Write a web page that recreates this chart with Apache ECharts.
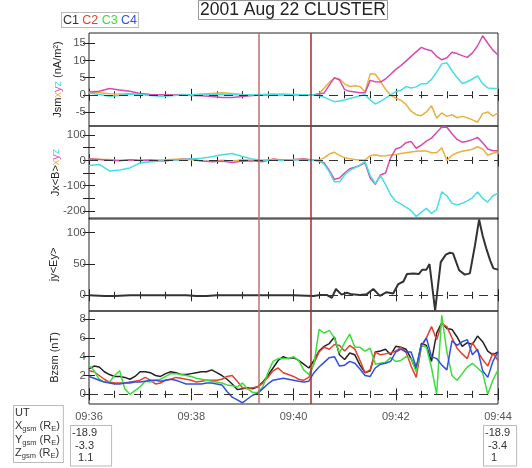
<!DOCTYPE html>
<html><head><meta charset="utf-8">
<script src="https://cdn.jsdelivr.net/npm/echarts@6/dist/echarts.min.js"></script>
<style>html,body{margin:0;padding:0;background:#fff}#c{width:532px;height:468px}</style>
</head><body><div id="c"></div>
<script>
// ---------------- data ----------------
const titleText = '2001 Aug 22 CLUSTER';
const spacecraft = ['C1', 'C2', 'C3', 'C4'];
// x values are minutes after 09:36 UT
const timeTickLabels = ['09:36', '09:38', '09:40', '09:42', '09:44'];
const eventTimes = [3.33, 4.34];

const jTimes = [0,0.2,0.4,0.6,0.8,1.0,1.2,1.4,1.6,1.8,2.0,2.2,2.4,2.6,2.8,3.0,3.2,3.4,3.6,3.8,4.0,4.2,
  4.3,4.4,4.5,4.6,4.7,4.8,4.9,5.0,5.1,5.2,5.3,5.4,5.5,5.6,5.7,5.8,5.9,6.0,6.1,6.2,6.3,6.4,6.5,6.6,6.7,6.8,6.9,
  7.0,7.1,7.2,7.3,7.4,7.5,7.6,7.7,7.8,7.9,8.0];

// Panel 1: Jsm x,y,z (nA/m^2)
const jsmX = [0.8,0.6,0.3,0.2,0.3,0.2,0,-0.1,0,0.1,0,0.2,0.4,0.6,0.4,0.1,0,-0.1,0,0.1,0.1,0,
  0,0,0.3,2.0,3.6,4.8,4.6,3.2,2.4,2.6,2.4,0.8,6.1,6.0,4.0,1.6,-0.2,-1.0,-1.6,-2.8,-4.8,-5.8,-6.1,-5.0,-3.2,-6.8,-5.3,
  -6.3,-5.8,-6.7,-6.3,-6.7,-7.3,-8.0,-5.5,-5.0,-6.2,-5.3];
const jsmY = [0.8,1.0,1.8,1.4,1.0,0.4,0.1,0,-0.1,0,-0.2,-0.3,-0.5,-0.8,-0.8,-0.5,-0.2,-0.1,0,0.1,0,0,
  0,0,0.2,0.5,2.8,5.0,4.3,1.5,1.0,0.8,0.6,0.6,4.2,3.8,3.7,4.6,6.0,7.4,8.5,9.8,11.2,12.5,13.8,13.2,12.8,11.2,10.2,
  10.8,12.4,12.0,11.4,10.9,12.2,14.2,17.2,15.0,13.0,11.6];
const jsmZ = [0.5,0.1,-0.4,-0.2,0.2,0.1,-0.2,-0.4,-0.3,-0.1,0,-0.1,0,0.1,0,-0.1,0,0.1,0.2,0.1,0,0,
  0,0,-0.3,-0.7,-1.4,-2.0,-1.8,-1.5,-1.1,-0.7,-0.3,0.0,-1.5,-2.7,-1.9,-1.0,0.0,0.9,1.3,2.4,2.0,2.3,3.2,3.2,4.5,6.6,9.0,
  9.3,7.0,5.0,3.3,3.8,4.6,5.5,3.2,2.0,1.8,1.8];

// Panel 2: J x <B>  x,y,z
const jxbX = [6,4,3,0,2,0,2,1,3,5,2,-3,-2,0,-2,2,0,0,4,2,3,5,
  3,0,2,10,25,32,20,10,6,3,1,1,18,22,17,18,21,23,27,30,33,36,37,37,30,30,50,
  0,20,30,36,40,44,54,45,20,28,33];
const jxbY = [5,3,0,-2,2,-1,0,-3,0,3,5,-2,-5,-3,-8,-3,-2,-5,5,0,2,5,
  2,0,-2,-10,-40,-75,-70,-50,-33,-27,-20,-10,-70,-95,-58,-50,10,45,52,70,75,48,60,76,88,110,132,
  131,105,83,72,76,82,91,70,45,38,38];
const jxbZ = [-20,-16,-42,-38,-30,-10,-5,-3,0,2,5,8,14,22,27,15,5,0,2,0,3,0,
  0,0,-3,-15,-45,-85,-85,-58,-40,-30,-18,-5,-60,-92,-60,-95,-136,-162,-172,-185,-198,-222,-205,-190,-210,-195,-125,
  -140,-170,-176,-170,-160,-148,-125,-150,-165,-140,-130];

// Panel 3: jy <Ey>
const jyTimes = [0,0.3,0.5,0.8,1.0,1.5,1.9,2.1,2.3,2.5,3.0,3.5,4.0,4.39,4.52,4.65,4.75,4.83,4.94,5.04,
  5.14,5.3,5.43,5.56,5.69,5.82,5.95,6.05,6.15,6.22,6.35,6.45,6.52,6.6,6.66,6.77,6.88,6.98,7.06,7.12,
  7.24,7.35,7.45,7.55,7.63,7.7,7.77,7.85,7.91,8.0];
const jyEy = [0,-1,-1,0,0,0,0,-1,-1,0,0,0,0,-1,0.5,0.5,-4,10,1,4,
  1.5,0.5,1.5,10,-1,5,3,18,22,34,35,34,41,41,50,-24,53,65,68,67,
  40,33,35,80,121,95,75,55,43,41];

// Panel 4: Bz (nT), C1..C4
const bTimes = [0,0.1,0.2,0.3,0.4,0.5,0.6,0.7,0.8,0.9,1.0,1.1,1.2,1.3,1.4,1.5,1.6,1.7,1.8,1.9,
  2.0,2.1,2.2,2.3,2.4,2.5,2.6,2.7,2.8,2.9,3.0,3.1,3.2,3.3,3.4,3.5,3.6,3.7,3.8,3.9,
  4.0,4.1,4.2,4.3,4.4,4.5,4.6,4.7,4.8,4.9,5.0,5.1,5.2,5.3,5.4,5.5,5.6,5.7,5.8,5.9,
  6.0,6.1,6.2,6.3,6.4,6.5,6.6,6.7,6.8,6.9,7.0,7.1,7.2,7.3,7.4,7.5,7.6,7.7,7.8,7.9,8.0];
const bzC1 = [2.7,3.0,2.9,2.4,2.1,1.9,1.9,1.8,1.6,1.9, 2.4,2.4,2.3,2.0,1.9,2.2,2.4,2.3,2.1,2.1,
  2.2,2.3,2.4,2.4,2.6,2.3,2.0,1.6,1.1,0.5, 0.6,0.7,0.6,0.8,1.3,2.0,2.8,3.6,4.0,3.8,
  3.9,3.6,3.2,2.8,3.6,4.6,5.1,5.4,6.1,4.2, 3.7,4.4,4.2,3.1,2.3,2.5,4.5,4.6,4.8,4.2,
  5.1,5.0,4.8,3.8,2.6,5.4,5.2,3.5,6.5,7.6, 7.0,6.9,6.1,5.1,5.5,5.3,6.2,5.6,4.6,4.2, 4.5];
const bzC2 = [2.5,2.4,2.0,1.6,1.3,1.2,1.2,1.2,1.3,1.4, 1.5,1.8,1.5,1.1,1.2,1.5,1.6,1.8,1.7,1.6,
  1.5,1.3,1.4,1.5,1.5,1.5,1.6,1.9,2.0,1.4, 0.7,0.6,0.7,0.8,1.2,1.8,2.5,2.8,2.3,2.1,
  1.9,1.6,1.5,1.8,3.3,4.5,5.0,4.8,5.3,5.2, 4.6,5.2,4.8,3.6,2.3,2.6,4.5,4.2,4.3,4.4,
  4.6,5.0,4.5,3.0,1.8,5.0,6.0,7.2,5.8,7.5, 7.2,6.0,4.9,4.3,3.8,5.5,4.6,3.7,3.0,4.4, 3.6];
const bzC3 = [3.1,2.5,1.6,1.3,1.3,2.0,2.5,0.6,0.0,0.4, 0.8,1.4,1.3,1.5,1.6,1.9,2.2,2.2,2.1,2.0,
  1.9,1.7,1.6,1.5,1.4,1.3,1.2,1.0,0.9,0.8, 1.2,0.6,0.2,0.2,0.8,2.3,3.5,3.8,3.8,3.8,
  4.0,3.6,2.6,2.1,3.2,6.9,6.5,6.8,6.0,4.4, 5.5,6.4,5.0,5.0,4.6,4.9,3.2,3.3,3.4,3.9,
  3.5,3.6,4.0,3.8,2.4,5.2,5.0,2.8,0.0,8.4, 4.5,2.0,1.5,2.2,2.9,3.3,2.8,2.3,0.0,1.5, 2.6];
const bzC4 = [1.9,1.7,1.5,1.3,1.2,1.1,1.1,1.2,1.2,1.3, 1.3,1.4,1.5,1.5,1.4,1.5,1.6,1.5,1.3,1.1,
  1.1,1.1,1.1,1.2,1.2,1.1,1.0,0.3,-0.3,-0.6, -0.9,-0.5,-0.1,0.1,0.6,1.1,1.5,1.6,1.7,1.6,
  1.5,1.4,1.3,1.4,2.3,2.9,3.4,3.9,4.0,3.0, 3.1,3.5,3.3,2.7,2.0,1.9,2.8,3.2,3.3,3.5,
  4.5,4.8,4.5,4.5,2.9,5.2,6.0,4.0,3.8,3.1, 2.6,5.7,5.2,5.6,5.8,4.2,4.8,2.5,1.8,3.5, 4.5];

// axis ticks / labels
const p1Ticks = [-5, 0, 5, 10, 15];
const p2Ticks = [-200, -150, -100, -50, 0, 50, 100];
const p2Labels = [-200, -100, 0, 100];
const p3Ticks = [0, 50, 100];
const p4Ticks = [0, 2, 4, 6, 8];

// spacecraft position table
const posNames = ['X', 'Y', 'Z'];
const posStart = ['-18.9', '-3.3', '1.1'];
const posEnd = ['-18.9', '-3.4', '1'];

// ---------------- chart ----------------
const FONT = 'Liberation Sans';
const compColors = { x: '#e9b042', y: '#d64bb2', z: '#46dfe2' };
const scColors = ['#222222', '#e5412f', '#3edc3e', '#3150dc'];
const frame = '#222';

const panels = [
  { top: 33, min: -9.1, max: 18, ticks: p1Ticks, labels: p1Ticks, gap: 26,
    name: '{k|Jsm}{x|x}{y|y}{z|z}{k| (nA/m²)}' },
  { top: 126, min: -232, max: 136, ticks: p2Ticks, labels: p2Labels, gap: 28,
    name: '{k|Jx<B>}{x|x}{y|y}{z|z}' },
  { top: 218, min: -25.1, max: 123.5, ticks: p3Ticks, labels: p3Ticks, gap: 30,
    name: '{k|jy<Ey>}' },
  { top: 311, min: -1.03, max: 8.86, ticks: p4Ticks, labels: p4Ticks, gap: 29,
    name: '{k|Bzsm (nT)}' }
];
const nameRich = {
  k: { color: '#222', fontSize: 11, fontFamily: FONT },
  x: { color: compColors.x, fontSize: 11, fontFamily: FONT },
  y: { color: compColors.y, fontSize: 11, fontFamily: FONT },
  z: { color: compColors.z, fontSize: 11, fontFamily: FONT }
};

const grid = [], xAxis = [], yAxis = [], series = [];
panels.forEach((p, i) => {
  grid.push({ left: 89, width: 409, top: p.top, height: 93, show: true,
    borderColor: frame, borderWidth: 1, backgroundColor: 'transparent' });
  ['bottom', 'top'].forEach(pos => {
    xAxis.push({ type: 'value', gridIndex: i, min: 0, max: 8, interval: 2, position: pos,
      axisLine: { show: false }, splitLine: { show: false },
      axisTick: { show: true, inside: true, length: 6, lineStyle: { color: frame } },
      minorTick: { show: true, splitNumber: 4, length: 3.5, lineStyle: { color: frame } },
      axisLabel: { show: (i === 3 && pos === 'bottom'), margin: 7, fontSize: 11, color: '#555',
        fontFamily: FONT, formatter: v => timeTickLabels[Math.round(v / 2)] } });
  });
  ['left', 'right'].forEach(pos => {
    const ax = { type: 'value', gridIndex: i, min: p.min, max: p.max, position: pos,
      axisLine: { show: false }, splitLine: { show: false },
      axisTick: { show: true, inside: true, length: 6, customValues: p.ticks, lineStyle: { color: frame } },
      axisLabel: { show: pos === 'left', customValues: p.labels, margin: 3, fontSize: 11.5,
        color: '#555', fontFamily: FONT } };
    if (pos === 'left') {
      ax.name = p.name; ax.nameLocation = 'middle'; ax.nameGap = p.gap; ax.nameMoveOverlap = false;
      ax.nameTextStyle = { rich: nameRich, fontFamily: FONT, fontSize: 11 };
    }
    yAxis.push(ax);
  });
});

const refMarks = {
  silent: true, symbol: ['none', 'none'], label: { show: false }, animation: false,
  data: [
    { yAxis: 0, lineStyle: { type: [9, 6], color: '#333', width: 1 } },
    { xAxis: eventTimes[0], lineStyle: { type: 'solid', color: '#b57570', width: 1.5 } },
    { xAxis: eventTimes[1], lineStyle: { type: 'solid', color: '#a42e2c', width: 1.5 } }
  ]
};
function addLine(gi, times, vals, color, width, withMarks) {
  const s = { type: 'line', xAxisIndex: 2 * gi, yAxisIndex: 2 * gi,
    data: times.map((t, k) => [t, vals[k]]), showSymbol: false, symbol: 'none',
    lineStyle: { color, width }, itemStyle: { color }, animation: false, silent: true };
  if (withMarks) s.markLine = refMarks;
  series.push(s);
}
addLine(0, jTimes, jsmX, compColors.x, 1.5, true);
addLine(0, jTimes, jsmY, compColors.y, 1.5, false);
addLine(0, jTimes, jsmZ, compColors.z, 1.5, false);
addLine(1, jTimes, jxbX, compColors.x, 1.5, true);
addLine(1, jTimes, jxbY, compColors.y, 1.5, false);
addLine(1, jTimes, jxbZ, compColors.z, 1.5, false);
addLine(2, jyTimes, jyEy, '#333', 2, true);
[bzC1, bzC2, bzC3, bzC4].forEach((arr, k) => addLine(3, bTimes, arr, scColors[k], 1.5, k === 0));

// legend & table as text
const legendRich = {};
spacecraft.forEach((s, k) => { legendRich['c' + k] = { fill: scColors[k] === '#222222' ? '#333' : scColors[k], fontSize: 12.5, fontFamily: FONT }; });
const legendText = spacecraft.map((s, k) => `{c${k}|${s}}`).join(' ');

const tabRich = {
  n: { fontSize: 11, fontFamily: FONT, fill: '#333', lineHeight: 13.5, verticalAlign: 'middle' },
  s: { fontSize: 7.5, fontFamily: FONT, fill: '#333', lineHeight: 13.5, verticalAlign: 'bottom' }
};
const tabText = '{n|UT}\n' + posNames.map(c => `{n|${c}}{s|gsm}{n| (R}{s|E}{n|)}`).join('\n');
const padVal = s => ' '.repeat(Math.max(0, 3 - s.split('.')[0].length)) + s;

const boxStyle = { borderColor: '#bbb', borderWidth: 1, backgroundColor: '#fff' };
const graphic = [
  { type: 'text', left: 61, top: 12, style: Object.assign({ text: legendText, rich: legendRich,
      padding: [1, 1, 0, 1] }, boxStyle) },
  { type: 'text', left: 13, top: 405, style: Object.assign({ text: tabText, rich: tabRich,
      padding: [0, 3, 2, 1] }, boxStyle) },
  { type: 'text', left: 70, top: 425, style: Object.assign({ text: posStart.map(padVal).join('\n'),
      font: '11px "Liberation Sans"', fill: '#333', lineHeight: 12.5, padding: [1, 14, 1, 1] }, boxStyle) },
  { type: 'text', left: 483, top: 425, style: Object.assign({ text: posEnd.map(padVal).join('\n'),
      font: '11px "Liberation Sans"', fill: '#333', lineHeight: 12.5, padding: [1, 6, 1, 1] }, boxStyle) }
];

const chart = echarts.init(document.getElementById('c'), null, { renderer: 'canvas' });
chart.setOption({
  animation: false,
  backgroundColor: '#fff',
  textStyle: { fontFamily: FONT },
  title: { text: titleText, left: 198, top: 0, padding: [1, 2, 1, 2], borderColor: '#999', borderWidth: 1,
    textStyle: { fontSize: 17.5, fontWeight: 'normal', color: '#222', fontFamily: FONT, lineHeight: 18 } },
  grid, xAxis, yAxis, series, graphic
});
</script></body></html>
